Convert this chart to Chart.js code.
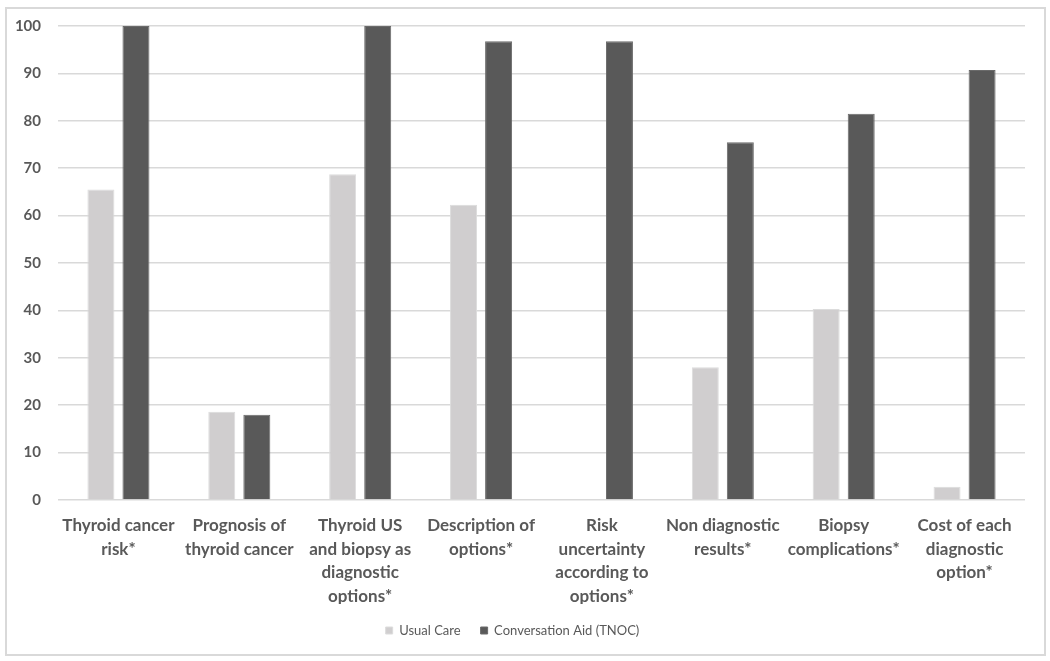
<!DOCTYPE html>
<html>
<head>
<meta charset="utf-8">
<script src="https://cdn.jsdelivr.net/npm/chart.js@4/dist/chart.umd.min.js"></script>
<style>
  html, body { margin:0; padding:0; background:#fff; }
  #wrap { position:relative; width:1050px; height:661px; }
  #frame { position:absolute; left:5px; top:7px; width:1037px; height:645px; border:2px solid #d9d9d9; }
  canvas { position:absolute; left:0; top:0; }
</style>
</head>
<body>
<div id="wrap">
  <div id="frame"></div>
  <canvas id="c" width="1050" height="661"></canvas>
</div>
<script>
const categories = [
  ["Thyroid cancer", "risk*"],
  ["Prognosis of", "thyroid cancer"],
  ["Thyroid US", "and biopsy as", "diagnostic", "options*"],
  ["Description of", "options*"],
  ["Risk", "uncertainty", "according to", "options*"],
  ["Non diagnostic", "results*"],
  ["Biopsy", "complications*"],
  ["Cost of each", "diagnostic", "option*"]
];
const usualCare = [65.5, 18.6, 68.7, 62.3, 0, 28.0, 40.3, 2.8];
const conversationAid = [100, 18.0, 100, 96.8, 96.8, 75.5, 81.5, 90.7];
const seriesNames = ["Usual Care", "Conversation Aid (TNOC)"];
const yTicks = [0, 10, 20, 30, 40, 50, 60, 70, 80, 90, 100];

const FONT = "Lato, 'Open Sans', sans-serif";
const TXT = '#595959';

new Chart(document.getElementById('c'), {
  type: 'bar',
  data: {
    labels: categories,
    datasets: [
      { label: seriesNames[0], data: usualCare, backgroundColor: '#d0cecf', borderColor: '#dcdcdc', borderWidth: 1,
        categoryPercentage: 0.58, barPercentage: 0.77 },
      { label: seriesNames[1], data: conversationAid, backgroundColor: '#595959', borderColor: '#6a6a6a', borderWidth: 1,
        categoryPercentage: 0.58, barPercentage: 0.77 }
    ]
  },
  options: {
    responsive: false,
    animation: false,
    layout: { padding: { left: 0, right: 25, top: 26, bottom: 14 } },
    plugins: {
      legend: {
        position: 'bottom',
        labels: {
          boxWidth: 7, boxHeight: 7, padding: 20,
          color: TXT, font: { family: FONT, size: 13 }
        }
      },
      tooltip: { enabled: false }
    },
    scales: {
      x: {
        grid: { display: false, drawTicks: false },
        border: { display: false },
        ticks: {
          color: TXT, padding: 14, maxRotation: 0, autoSkip: false,
          font: { family: FONT, size: 17, weight: 'bold', lineHeight: 1.38 }
        },
        afterFit: (s) => { s.height = 104; }
      },
      y: {
        min: 0, max: 100,
        afterBuildTicks: (s) => { s.ticks = yTicks.map(v => ({ value: v })); },
        grid: { color: '#d9d9d9', lineWidth: 1.5, drawTicks: false },
        border: { display: false },
        ticks: {
          color: TXT, padding: 17,
          font: { family: FONT, size: 15, weight: 'bold' }
        },
        afterFit: (s) => { s.width = 58; }
      }
    }
  }
});
</script>
</body>
</html>
